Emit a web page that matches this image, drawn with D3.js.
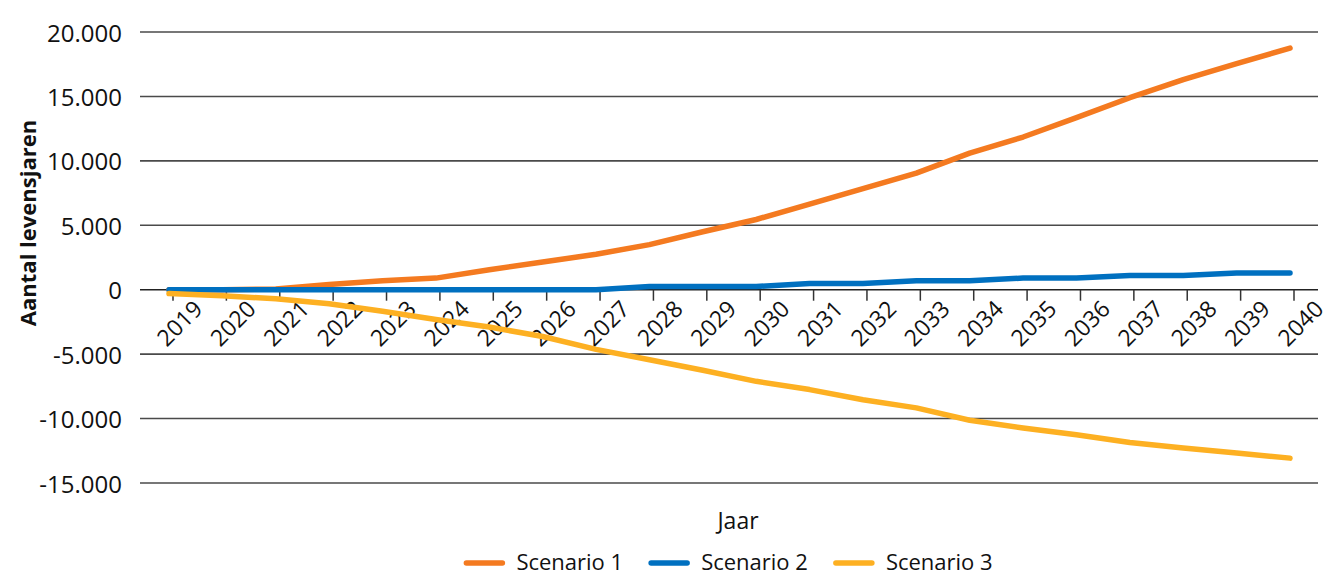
<!DOCTYPE html>
<html>
<head>
<meta charset="utf-8">
<script src="https://cdn.jsdelivr.net/npm/d3@7"></script>
<style>
  html, body { margin: 0; padding: 0; background: #fff; }
  svg { display: block; font-family: "Open Sans", "Noto Sans", sans-serif; }
</style>
</head>
<body>
<svg id="chart" width="1336" height="577"></svg>
<script>
// ---- data ----
const years = ["2019","2020","2021","2022","2023","2024","2025","2026","2027","2028","2029",
               "2030","2031","2032","2033","2034","2035","2036","2037","2038","2039","2040"];
const scenario1 = [0, 0, 50, 400, 700, 900, 1550, 2150, 2750, 3500, 4500,
                   5450, 6650, 7850, 9050, 10600, 11850, 13350, 14900, 16300, 17550, 18750];
const scenario2 = [0, 0, 0, 0, 0, 0, 0, 0, 0, 250, 250,
                   250, 480, 480, 700, 700, 900, 900, 1100, 1100, 1300, 1300];
const scenario3 = [-300, -470, -700, -1090, -1670, -2310, -2900, -3630, -4630, -5440, -6250,
                   -7110, -7750, -8540, -9170, -10130, -10730, -11250, -11850, -12290, -12680, -13070];
const seriesNames = ["Scenario 1", "Scenario 2", "Scenario 3"];
const yTicks = [-15000, -10000, -5000, 0, 5000, 10000, 15000, 20000];
const yTitle = "Aantal levensjaren";
const xTitle = "Jaar";

// ---- styling ----
const colors = ["#F47A20", "#0070C0", "#FDB022"];
const series = [scenario1, scenario2, scenario3];

const svg = d3.select("#chart");
const x = d3.scalePoint().domain(years).range([169, 1290]);
const y = d3.scaleLinear().domain([-15000, 20000]).range([483, 32]);
const gridX0 = 140, gridX1 = 1318;

const locale = d3.formatLocale({decimal: ",", thousands: ".", grouping: [3], currency: ["€", ""], minus: "-"});
const fmt = locale.format(",d");

// gridlines
svg.append("g").selectAll("line").data(yTicks).join("line")
  .attr("x1", gridX0).attr("x2", gridX1)
  .attr("y1", d => y(d)).attr("y2", d => y(d))
  .attr("stroke", d => d === 0 ? "#222" : "#4a4a4a")
  .attr("stroke-width", 1.6);

// y tick labels
svg.append("g").selectAll("text").data(yTicks).join("text")
  .attr("x", 122).attr("y", d => y(d))
  .attr("text-anchor", "end").attr("dominant-baseline", "central")
  .attr("font-size", 24).attr("fill", "#111")
  .text(d => fmt(d));

// x axis ticks
const y0 = y(0);
svg.append("g").selectAll("line").data(years).join("line")
  .attr("x1", d => x(d) + 4).attr("x2", d => x(d) + 4)
  .attr("y1", y0).attr("y2", y0 + 11)
  .attr("stroke", "#333").attr("stroke-width", 1.5);

// x tick labels rotated
svg.append("g").selectAll("text").data(years).join("text")
  .attr("transform", d => `translate(${x(d) + 10},${y0 + 33}) rotate(-45)`)
  .attr("text-anchor", "middle").attr("dominant-baseline", "central")
  .attr("font-size", 23).attr("fill", "#111")
  .text(d => d);

// lines
const line = d3.line().x((d, i) => x(years[i])).y(d => y(d));
series.forEach((s, k) => {
  svg.append("path").datum(s)
    .attr("d", line)
    .attr("fill", "none")
    .attr("stroke", colors[k])
    .attr("stroke-width", 5.5)
    .attr("stroke-linecap", "round")
    .attr("stroke-linejoin", "round");
});

// y axis title
svg.append("text")
  .attr("transform", "translate(27,223) rotate(-90)")
  .attr("text-anchor", "middle").attr("dominant-baseline", "central")
  .attr("font-size", 22).attr("font-weight", "bold").attr("fill", "#111")
  .text(yTitle);

// x axis title
svg.append("text")
  .attr("x", 738).attr("y", 520)
  .attr("text-anchor", "middle").attr("dominant-baseline", "central")
  .attr("font-size", 23).attr("fill", "#111")
  .text(xTitle);

// legend
const legend = svg.append("g");
const lineLen = 36, gapText = 14, gapItem = 28, legY = 561;
let cx = 0;
seriesNames.forEach((name, k) => {
  const g = legend.append("g");
  g.append("line").attr("x1", 0).attr("x2", lineLen).attr("y1", 2).attr("y2", 2)
    .attr("stroke", colors[k]).attr("stroke-width", 5.5).attr("stroke-linecap", "round");
  const t = g.append("text").attr("x", lineLen + gapText).attr("y", 0)
    .attr("dominant-baseline", "central").attr("font-size", 22).attr("fill", "#111")
    .text(name);
  const w = lineLen + gapText + t.node().getComputedTextLength();
  g.attr("transform", `translate(${cx},0)`);
  cx += w + gapItem;
});
const total = cx - gapItem;
legend.attr("transform", `translate(${729.5 - total / 2},${legY})`);
</script>
</body>
</html>
